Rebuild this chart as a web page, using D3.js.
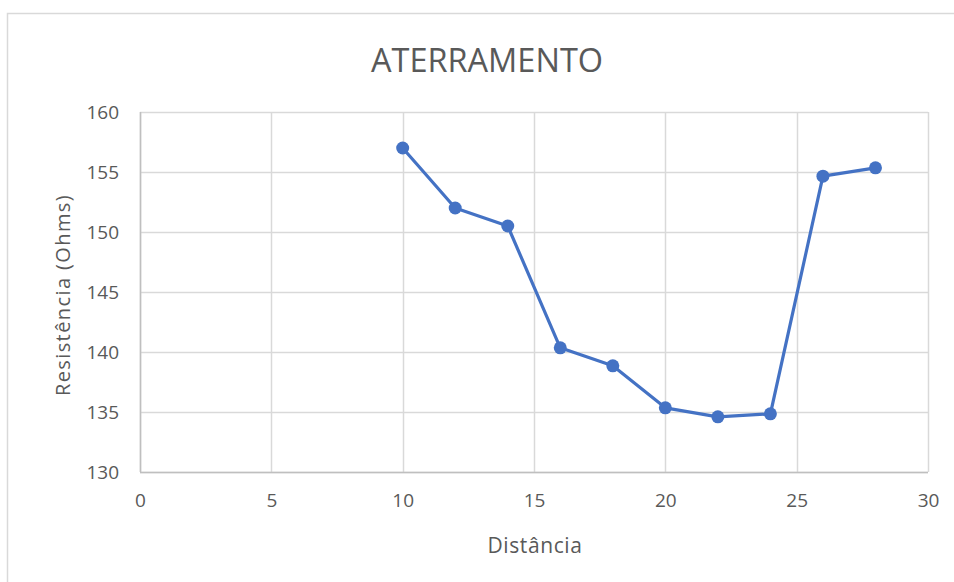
<!DOCTYPE html>
<html><head><meta charset="utf-8">
<script src="https://cdn.jsdelivr.net/npm/d3@7"></script>
<style>body{margin:0;background:#fff}svg{display:block}</style>
</head><body>
<svg id="c" width="954" height="582"></svg>
<script>
const distancia = [10, 12, 14, 16, 18, 20, 22, 24, 26, 28];
const resistencia = [157, 152, 150.5, 140.35, 138.85, 135.35, 134.6, 134.85, 154.65, 155.35];
const xTicks = [0, 5, 10, 15, 20, 25, 30];
const yTicks = [130, 135, 140, 145, 150, 155, 160];
const title = "ATERRAMENTO";
const xTitle = "Distância";
const yTitle = "Resistência (Ohms)";

const svg = d3.select("#c");
const m = {l: 140, r: 954 - 928, t: 112, b: 582 - 472};
const W = 954, H = 582;
const x = d3.scaleLinear().domain([0, 30]).range([m.l, W - m.r]);
const y = d3.scaleLinear().domain([130, 160]).range([H - m.b, m.t]);
const txt = "#595959";
const font = "'Open Sans', sans-serif";

// outer chart border
svg.append("rect").attr("x", 7.5).attr("y", 13.5).attr("width", 960).attr("height", 600)
  .attr("fill", "#fff").attr("stroke", "#d9d9d9").attr("stroke-width", 1.5);

// gridlines
svg.append("g").selectAll("line").data(yTicks).join("line")
  .attr("x1", x(0)).attr("x2", x(30)).attr("y1", d => Math.round(y(d)) + 0.5).attr("y2", d => Math.round(y(d)) + 0.5)
  .attr("stroke", "#d9d9d9").attr("stroke-width", 1.5);
svg.append("g").selectAll("line").data(xTicks).join("line")
  .attr("y1", y(130)).attr("y2", y(160)).attr("x1", d => Math.round(x(d)) + 0.5).attr("x2", d => Math.round(x(d)) + 0.5)
  .attr("stroke", "#d9d9d9").attr("stroke-width", 1.5);
// axis lines
svg.append("line").attr("x1", x(0)).attr("x2", x(30)).attr("y1", Math.round(y(130)) + 0.5).attr("y2", Math.round(y(130)) + 0.5)
  .attr("stroke", "#bfbfbf").attr("stroke-width", 1.5);
svg.append("line").attr("y1", y(130)).attr("y2", y(160)).attr("x1", Math.round(x(0)) + 0.5).attr("x2", Math.round(x(0)) + 0.5)
  .attr("stroke", "#bfbfbf").attr("stroke-width", 1.5);

// axes labels via d3 axes
const xAxis = svg.append("g").attr("transform", `translate(0,${y(130)})`)
  .call(d3.axisBottom(x).tickValues(xTicks).tickSize(0));
const yAxis = svg.append("g").attr("transform", `translate(${x(0)},0)`)
  .call(d3.axisLeft(y).tickValues(yTicks).tickSize(0).tickPadding(21));
[xAxis, yAxis].forEach(g => {
  g.select(".domain").remove();
  g.selectAll("text").attr("fill", txt).style("font-family", font).style("font-size", "19px");
});
xAxis.selectAll("text").attr("dy", null).attr("y", 35);
yAxis.selectAll("text").attr("dy", "0.36em");

// titles
svg.append("text").attr("x", 487).attr("y", 72).attr("text-anchor", "middle")
  .attr("fill", txt).style("font-family", font).style("font-size", "32.5px").text(title);
svg.append("text").attr("x", 535).attr("y", 553).attr("text-anchor", "middle")
  .attr("fill", txt).style("font-family", font).style("font-size", "21px")
  .style("letter-spacing", "0.6px").text(xTitle);
svg.append("text").attr("transform", "translate(70,295) rotate(-90)").attr("text-anchor", "middle")
  .attr("fill", txt).style("font-family", font).style("font-size", "20px")
  .style("letter-spacing", "1.4px").text(yTitle);

// line + markers
const data = distancia.map((d, i) => ({x: d, y: resistencia[i]}));
const blue = "#4472C4";
svg.append("path").datum(data).attr("fill", "none").attr("stroke", blue).attr("stroke-width", 3.2)
  .attr("stroke-linejoin", "round")
  .attr("d", d3.line().x(d => x(d.x)).y(d => y(d.y)));
svg.append("g").selectAll("circle").data(data).join("circle")
  .attr("cx", d => x(d.x)).attr("cy", d => y(d.y)).attr("r", 6.5).attr("fill", blue);
</script>
</body></html>
